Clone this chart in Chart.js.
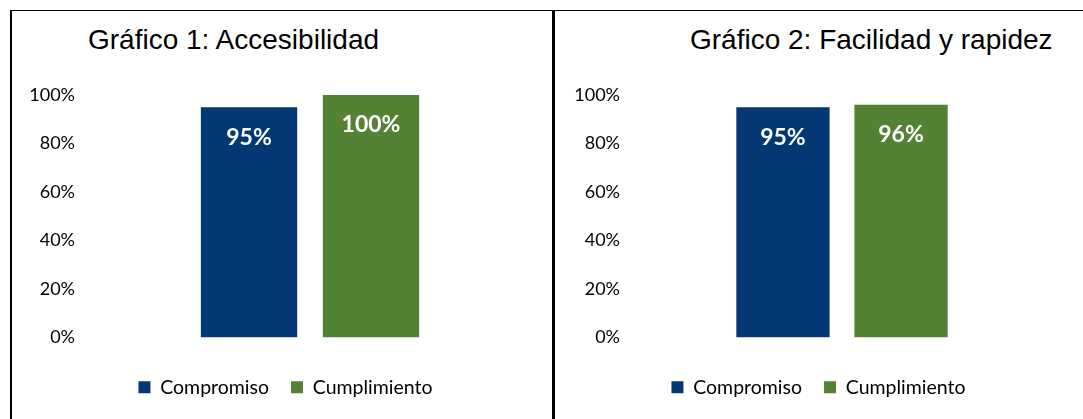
<!doctype html>
<html>
	<head>
		<meta charset="utf-8" />
		<title>Gráfico 1 y 2</title>
		<script src="https://cdn.jsdelivr.net/npm/chart.js@4.4.1/dist/chart.umd.min.js"></script>
		<style>
			html,
			body {
				margin: 0;
				padding: 0;
				background: #fff;
			}
			body {
				position: relative;
				width: 1083px;
				height: 419px;
				overflow: hidden;
			}
			.line {
				position: absolute;
				background: #000;
			}
			.title {
				position: absolute;
				font-family: "Liberation Sans", Arial, sans-serif;
				font-size: 28px;
				line-height: 28px;
				color: #000;
				white-space: nowrap;
			}
			.panel {
				position: absolute;
				top: 11px;
				height: 408px;
			}
		</style>
	</head>

	<body>
		<div class="line" style="left: 10px; top: 10px; width: 1073px; height: 1px"></div>
		<div class="line" style="left: 10px; top: 10px; width: 2px; height: 409px"></div>
		<div class="line" style="left: 552px; top: 10px; width: 3px; height: 409px"></div>

		<div class="title" style="left: 88px; top: 26px">Gráfico 1: Accesibilidad</div>
		<div class="title" style="left: 690px; top: 26px">Gráfico 2: Facilidad y rapidez</div>

		<div class="panel" style="left: 12px; width: 540px"><canvas id="chart1"></canvas></div>
		<div class="panel" style="left: 555px; width: 528px"><canvas id="chart2"></canvas></div>

		<script>
			// data
			const seriesNames = ["Compromiso", "Cumplimiento"];
			const seriesColors = ["#033875", "#548235"];
			const accesibilidad = [95, 100];
			const facilidad = [95, 96];
			const yTicks = [0, 20, 40, 60, 80, 100];

			// white percentage printed near the top of each bar
			const barLabels = {
				id: "barLabels",
				afterDatasetsDraw(chart) {
					const ctx = chart.ctx;
					ctx.save();
					ctx.fillStyle = "#fff";
					ctx.font = "bold 23px Lato";
					ctx.textAlign = "center";
					ctx.textBaseline = "middle";
					chart.data.datasets.forEach((ds, i) => {
						chart.getDatasetMeta(i).data.forEach((bar, j) => {
							ctx.fillText(ds.data[j] + "%", bar.x, bar.y + 30);
						});
					});
					ctx.restore();
				},
			};

			// the legend sits a bit right of the canvas centre in the original
			const legendShift = {
				id: "legendShift",
				afterLayout(chart, args, opts) {
					const lg = chart.legend;
					if (lg && opts.dx) {
						lg.left += opts.dx;
						lg.right += opts.dx;
					}
				},
			};

			function makeChart(id, values, yWidth, padRight, catPct, dx) {
				return new Chart(document.getElementById(id), {
					type: "bar",
					data: {
						labels: [""],
						datasets: seriesNames.map((name, i) => ({
							label: name,
							data: [values[i]],
							backgroundColor: seriesColors[i],
							borderWidth: 0,
							barPercentage: 0.79,
							categoryPercentage: catPct,
						})),
					},
					options: {
						responsive: true,
						maintainAspectRatio: false,
						animation: false,
						layout: { padding: { top: 84, right: padRight, left: 0, bottom: 12 } },
						plugins: {
							tooltip: { enabled: false },
							legendShift: { dx: dx },
							legend: {
								position: "bottom",
								labels: {
									boxWidth: 12,
									boxHeight: 12,
									padding: 22,
									color: "#000",
									font: { family: "Lato", size: 19.5 },
								},
							},
						},
						scales: {
							x: {
								display: true,
								grid: { display: false, drawTicks: false },
								border: { display: false },
								ticks: { display: false },
								afterFit: (s) => {
									s.height = 18;
								},
							},
							y: {
								min: 0,
								max: 100,
								grid: { display: false, drawTicks: false },
								border: { display: false },
								afterBuildTicks: (s) => {
									s.ticks = yTicks.map((v) => ({ value: v }));
								},
								afterFit: (s) => {
									s.width = yWidth;
								},
								ticks: {
									padding: 10,
									color: "#000",
									font: { family: "Lato", size: 18 },
									callback: (v) => v + "%",
								},
							},
						},
					},
					plugins: [barLabels, legendShift],
				});
			}

			function build() {
				makeChart("chart1", accesibilidad, 73, 17, 0.542, 12);
				makeChart("chart2", facilidad, 75, 29, 0.557, 14);
			}

			Promise.all([
				document.fonts.load("18px Lato"),
				document.fonts.load("19.5px Lato"),
				document.fonts.load("bold 23px Lato"),
			]).then(build, build);
		</script>
	</body>
</html>
